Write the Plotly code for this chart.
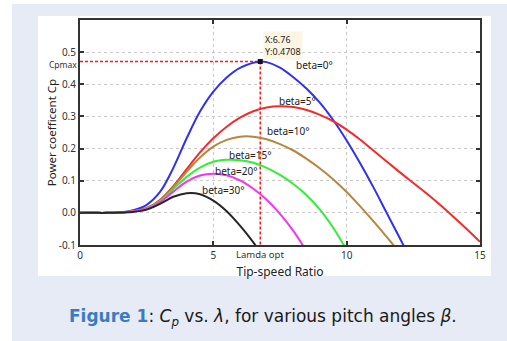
import plotly.graph_objects as go

# ---- data (tip-speed ratio vs power coefficient) ----
lam = [0, 0.5, 1.0, 1.5, 2.0, 2.5, 3.0, 3.5, 4.0, 4.5, 5.0, 5.5, 6.0, 6.5, 7.0, 7.5,
       8.0, 8.5, 9.0, 9.5, 10.0, 10.5, 11.0, 11.5, 12.0, 12.5, 13.0, 13.5, 14.0, 14.5, 15.0]

blue_x = lam[:13] + [6.76] + lam[14:26]
blue_y = [0, 0, 0, 0.001, 0.008, 0.025, 0.065, 0.14, 0.232, 0.315, 0.377, 0.421, 0.451,
          0.4708, 0.469, 0.452, 0.422, 0.386, 0.342, 0.288, 0.225, 0.155, 0.08, 0.0, -0.08, -0.16]

red_x = lam
red_y = [0, 0, 0, 0.001, 0.005, 0.015, 0.04, 0.083, 0.136, 0.188, 0.232, 0.268, 0.296, 0.316,
         0.328, 0.332, 0.329, 0.32, 0.305, 0.285, 0.259, 0.228, 0.194, 0.16, 0.126, 0.093,
         0.06, 0.025, -0.012, -0.05, -0.09]

brown_x = lam[:25]
brown_y = [0, 0, 0, 0.001, 0.005, 0.014, 0.037, 0.08, 0.128, 0.172, 0.206, 0.227, 0.237,
           0.237, 0.229, 0.214, 0.194, 0.168, 0.138, 0.104, 0.065, 0.021, -0.026, -0.075, -0.125]

green_x = lam[:21]
green_y = [0, 0, 0, 0.001, 0.005, 0.013, 0.036, 0.074, 0.112, 0.141, 0.159, 0.165, 0.164,
           0.156, 0.14, 0.118, 0.09, 0.055, 0.01, -0.047, -0.115]

magenta_x = lam[:18]
magenta_y = [0, 0, 0, 0.001, 0.005, 0.012, 0.033, 0.066, 0.097, 0.116, 0.122, 0.117, 0.101,
             0.075, 0.041, -0.003, -0.056, -0.12]

black_x = lam[:15]
black_y = [0, 0, 0, 0.001, 0.003, 0.01, 0.028, 0.05, 0.061, 0.058, 0.038, 0.005, -0.04,
           -0.092, -0.15]

lam_opt = 6.76
cp_max = 0.4708

x_ticks = [0, 5, 10, 15]
x_tick_text = ["0", "5", "10", "15"]
y_ticks = [-0.1, 0.0, 0.1, 0.2, 0.3, 0.4, 0.5]
y_tick_text = ["-0.1", "0.0", "0.1", "0.2", "0.3", "0.4", "0.5"]

series = [
    ("beta=0°", blue_x, blue_y, "#3030f5"),
    ("beta=5°", red_x, red_y, "#f52a2a"),
    ("beta=10°", brown_x, brown_y, "#b8863c"),
    ("beta=15°", green_x, green_y, "#33ee33"),
    ("beta=20°", magenta_x, magenta_y, "#f533f0"),
    ("beta=30°", black_x, black_y, "#262626"),
]

label_pos = {
    "beta=0°": (8.02, 0.460),
    "beta=5°": (7.39, 0.349),
    "beta=10°": (6.94, 0.256),
    "beta=15°": (5.51, 0.179),
    "beta=20°": (4.99, 0.130),
    "beta=30°": (4.50, 0.070),
}

FONT = "Noto Sans"
fig = go.Figure()

# red dashed guide lines
guide = dict(color="#ff1a1a", width=1.6, dash="3px,2px")
fig.add_trace(go.Scatter(x=[0, lam_opt], y=[cp_max, cp_max], mode="lines",
                         line=guide, showlegend=False, hoverinfo="skip"))
fig.add_trace(go.Scatter(x=[lam_opt, lam_opt], y=[cp_max, -0.1], mode="lines",
                         line=guide, showlegend=False, hoverinfo="skip"))

for name, xs, ys, col in series:
    fig.add_trace(go.Scatter(x=xs, y=ys, mode="lines", name=name,
                             line=dict(color=col, width=2, shape="spline", smoothing=1.0),
                             showlegend=False))

fig.add_trace(go.Scatter(x=[lam_opt], y=[cp_max], mode="markers",
                         marker=dict(symbol="square", size=5, color="#111111"), showlegend=False))

annotations = []
for name, _, _, _ in series:
    lx, ly = label_pos[name]
    annotations.append(dict(x=lx, y=ly, xref="x", yref="y", text=name, showarrow=False,
                            xanchor="left", yanchor="middle",
                            font=dict(family=FONT, size=10, color="#222222")))

# data tip
annotations.append(dict(x=6.86, y=0.565, xref="x", yref="y",
                        text="X:%.2f<br>Y:%.4f" % (lam_opt, cp_max), showarrow=False,
                        xanchor="left", yanchor="top", align="left",
                        bgcolor="#fdf5e4", borderpad=1,
                        font=dict(family=FONT, size=9, color="#222222")))
# Cpmax / Lamda opt labels
annotations.append(dict(x=0, y=cp_max, xref="paper", yref="y", text="Cpmax", showarrow=False,
                        xanchor="right", yanchor="middle", xshift=-1, yshift=-2.5,
                        font=dict(family=FONT, size=8.5, color="#333333")))
annotations.append(dict(x=lam_opt, y=0, xref="x", yref="paper", text="Lamda opt", showarrow=False,
                        xanchor="center", yanchor="top", yshift=-1,
                        font=dict(family=FONT, size=9.5, color="#333333")))
# caption
annotations.append(dict(x=0.5, y=-0.32, xref="paper", yref="paper", showarrow=False,
                        xanchor="center", yanchor="middle", xshift=-17,
                        text="<b><span style='color:#3a7cc0'>Figure 1</span></b>: <i>C</i><sub><i>p</i></sub> vs. <i>λ</i>, for various pitch angles <i>β</i>.",
                        font=dict(family="DejaVu Sans", size=17, color="#1a1a1a")))

shapes = [
    dict(type="rect", xref="paper", yref="paper", x0=-0.17, x1=1.08, y0=-0.44, y1=1.0711,
         fillcolor="#e7ebf5", line=dict(width=0), layer="below"),
    dict(type="rect", xref="paper", yref="paper", x0=-0.105, x1=1.0275, y0=-0.1378, y1=1.0178,
         fillcolor="#ffffff", line=dict(width=0), layer="below"),
]

axis_common = dict(showline=True, linecolor="#333333", linewidth=2, mirror="ticks",
                   ticks="inside", ticklen=4, tickwidth=2, tickcolor="#333333",
                   showgrid=True, gridcolor="#c8c8c8", griddash="dot", gridwidth=1,
                   zeroline=False, tickfont=dict(family=FONT, size=10, color="#333333"))

fig.update_layout(
    width=507, height=341,
    margin=dict(l=80, r=27, t=20, b=96),
    paper_bgcolor="#ffffff", plot_bgcolor="#ffffff",
    annotations=annotations, shapes=shapes,
    xaxis=dict(range=[0, 15], tickvals=x_ticks, ticktext=x_tick_text,
               title=dict(text="Tip-speed Ratio", standoff=7, font=dict(family=FONT, size=12, color="#222222")),
               **axis_common),
    yaxis=dict(range=[-0.1, 0.6], tickvals=y_ticks, ticktext=y_tick_text,
               title=dict(text="Power coefficent Cp", standoff=0, font=dict(family=FONT, size=11.5, color="#222222")),
               **axis_common),
)

fig.write_html("out.html")
